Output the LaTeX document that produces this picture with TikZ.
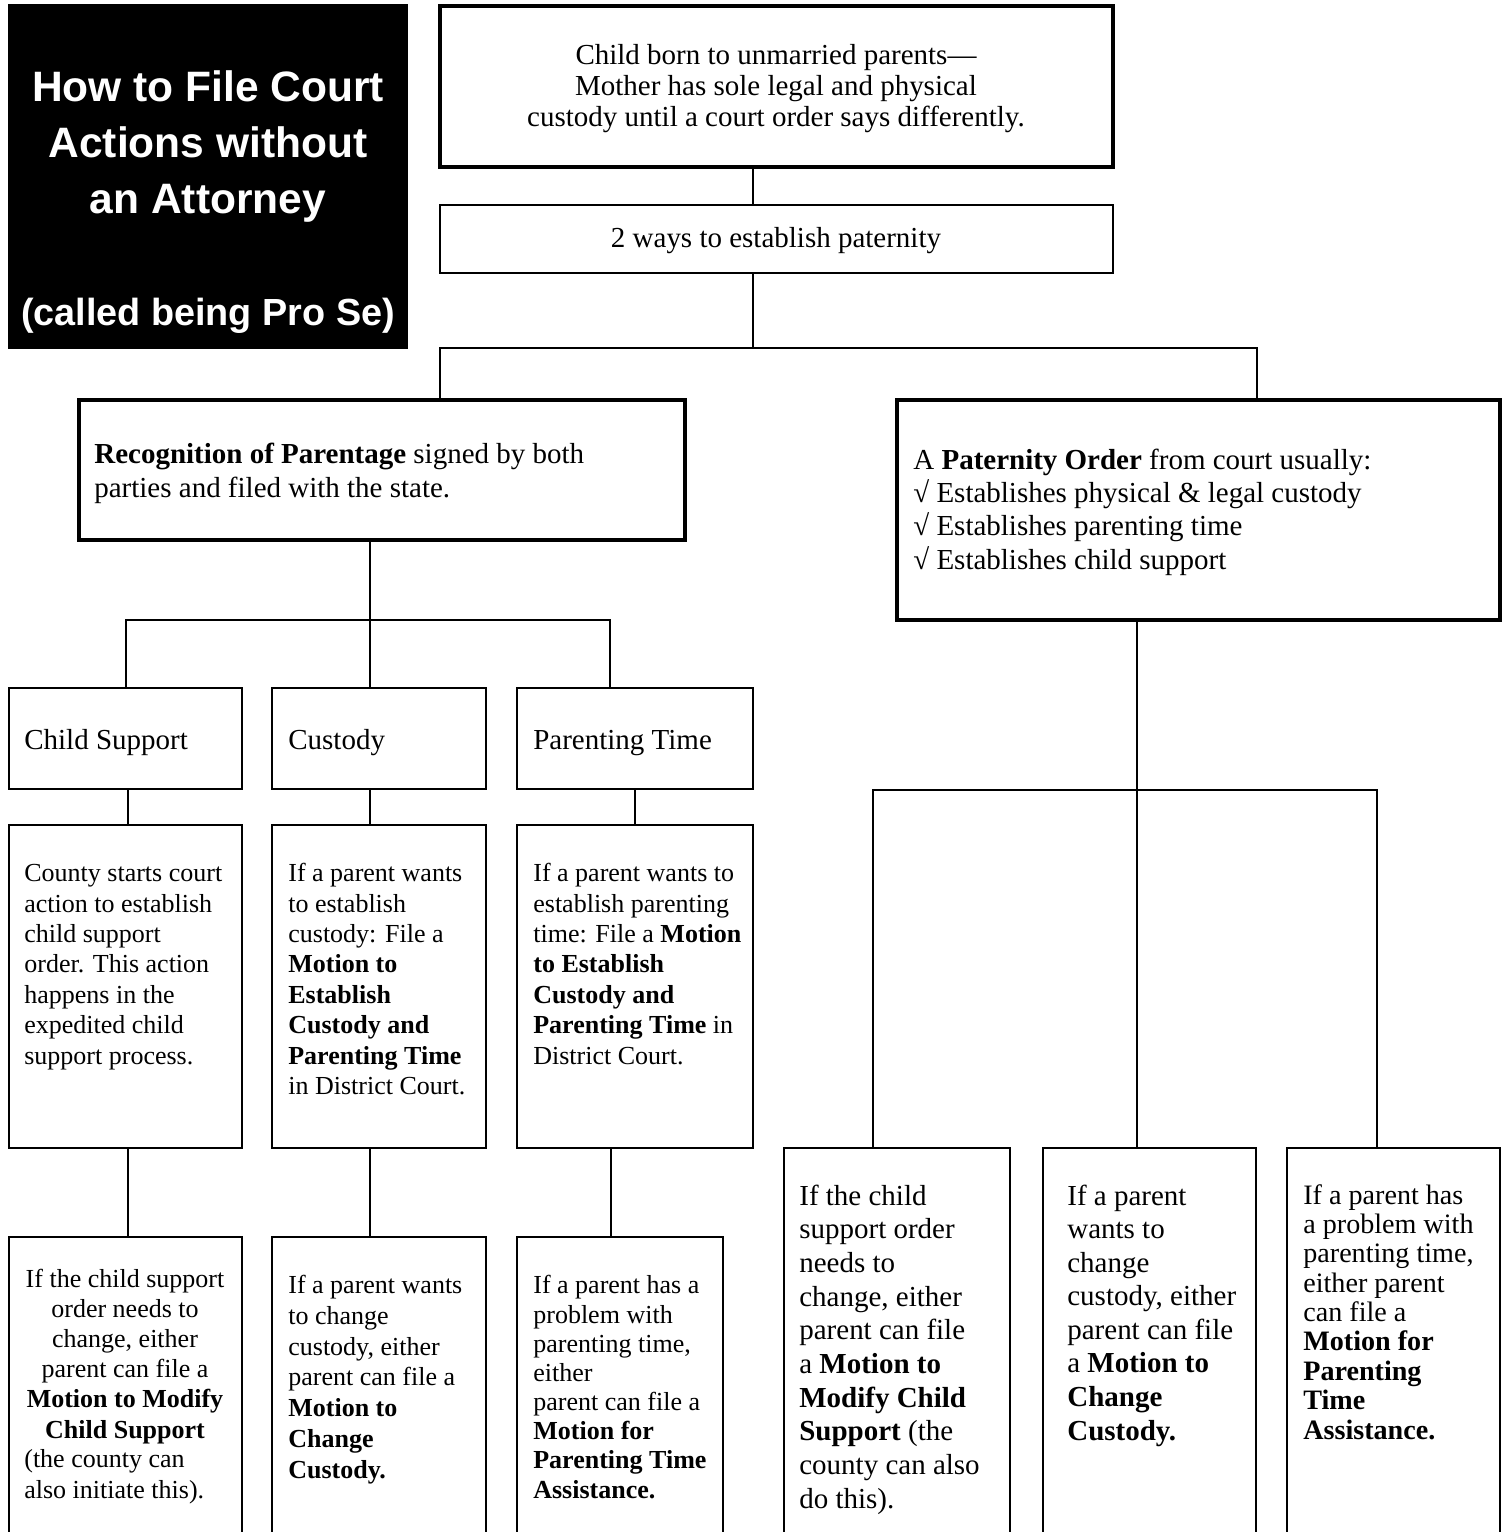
\documentclass[tikz,border=0pt]{standalone}
\usepackage{fontspec}
\setmainfont{Liberation Serif}
\setsansfont{Liberation Sans}
\usepackage{tikz}

\begin{document}
\begin{tikzpicture}[x=0.02cm, y=-0.02cm,
  box/.style={draw, line width=1.1pt, inner sep=0pt, outer sep=0pt, anchor=north west},
  heavybox/.style={box, line width=2pt},
  txt/.style={inner sep=0pt, anchor=base west, align=left},
  ctxt/.style={inner sep=0pt, anchor=base, align=center},
  wire/.style={line width=1.1pt}]
  \useasboundingbox (0,0) rectangle (1504,1532);
  \clip (0,0) rectangle (1504,1532);

  % Title block (text anchored at its last baseline)
  \node[fill=black, inner sep=0pt, outer sep=0pt, anchor=north west, minimum width=8cm, minimum height=6.9cm] (title) at (8,4) {};
  \node[ctxt, text=white, font=\sffamily\bfseries\fontsize{24.2}{31.7}\selectfont] (titletxt) at (208,325)
    {How to File Court\\Actions without\\an Attorney\\[32pt]{\fontsize{21.5}{31.7}\selectfont(called being Pro Se)}};

  % Top of the tree
  \node[heavybox, minimum width=13.46cm, minimum height=3.22cm] (born) at (440,6) {};
  \node[ctxt, font=\fontsize{16.5}{17.6}\selectfont] (borntxt) at (776,126)
    {Child born to unmarried parents---\\Mother has sole legal and physical\\custody until a court order says differently.};
  \node[box, minimum width=13.46cm, minimum height=1.36cm] (ways) at (440,205) {};
  \node[ctxt, font=\fontsize{16.5}{19}\selectfont] (waystxt) at (776,247) {2 ways to establish paternity};

  % Two ways
  \node[heavybox, minimum width=12.12cm, minimum height=2.8cm] (rec) at (79,400) {};
  \node[txt, font=\fontsize{16.5}{18.8}\selectfont] (rectxt) at (94,497)
    {\textbf{Recognition of Parentage} signed by both\\parties and filed with the state.};
  \node[heavybox, minimum width=12.06cm, minimum height=4.4cm] (pat) at (897,400) {};
  \node[txt, font=\fontsize{16.5}{18.9}\selectfont] (pattxt) at (913,569)
    {A \textbf{Paternity Order} from court usually:\\√ Establishes physical \& legal custody\\√ Establishes parenting time\\√ Establishes child support};

  % Recognition branch, row 1
  \node[box, minimum width=4.66cm, minimum height=2.02cm] (cs) at (9,688) {};
  \node[box, minimum width=4.28cm, minimum height=2.02cm] (cu) at (272,688) {};
  \node[box, minimum width=4.72cm, minimum height=2.02cm] (pt) at (517,688) {};
  \node[txt, font=\fontsize{16.5}{19}\selectfont] (cstxt) at (24,749) {Child Support};
  \node[txt, font=\fontsize{16.5}{19}\selectfont] (cutxt) at (288,749) {Custody};
  \node[txt, font=\fontsize{16.5}{19}\selectfont] (pttxt) at (533,749) {Parenting Time};

  % row 2
  \node[box, minimum width=4.66cm, minimum height=6.46cm] (csD) at (9,825) {};
  \node[box, minimum width=4.28cm, minimum height=6.46cm] (cuD) at (272,825) {};
  \node[box, minimum width=4.72cm, minimum height=6.46cm] (ptD) at (517,825) {};
  \node[txt, font=\fontsize{14.8}{17.3}\selectfont] (csDtxt) at (24,1064)
    {County starts court\\action to establish\\child support\\order. This action\\happens in the\\expedited child\\support process.};
  \node[txt, font=\fontsize{14.8}{17.3}\selectfont] (cuDtxt) at (288,1094.5)
    {If a parent wants\\to establish\\custody: File a\\\textbf{Motion to}\\\textbf{Establish}\\\textbf{Custody and}\\\textbf{Parenting Time}\\in District Court.};
  \node[txt, font=\fontsize{14.8}{17.3}\selectfont] (ptDtxt) at (533,1064)
    {If a parent wants to\\establish parenting\\time: File a \textbf{Motion}\\\textbf{to Establish}\\\textbf{Custody and}\\\textbf{Parenting Time} in\\District Court.};

  % row 3
  \node[box, minimum width=4.66cm, minimum height=7.4cm] (csM) at (9,1237) {};
  \node[box, minimum width=4.28cm, minimum height=7.4cm] (cuM) at (272,1237) {};
  \node[box, minimum width=4.12cm, minimum height=7.4cm] (ptM) at (517,1237) {};
  \node[ctxt, font=\fontsize{14.8}{17.1}\selectfont] (csMtxt) at (125,1438)
    {If the child support\\order needs to\\change, either\\parent can file a\\\textbf{Motion to Modify}\\\textbf{Child Support}};
  \node[txt, font=\fontsize{14.8}{17.1}\selectfont] (csMnote) at (24,1498)
    {(the county can\\also initiate this).};
  \node[txt, font=\fontsize{14.8}{17.5}\selectfont] (cuMtxt) at (288,1478)
    {If a parent wants\\to change\\custody, either\\parent can file a\\\textbf{Motion to}\\\textbf{Change}\\\textbf{Custody.}};
  \node[txt, font=\fontsize{14.8}{16.6}\selectfont] (ptMtxt) at (533,1498)
    {If a parent has a\\problem with\\parenting time,\\either\\parent can file a\\\textbf{Motion for}\\\textbf{Parenting Time}\\\textbf{Assistance.}};

  % Paternity order branch
  \node[box, minimum width=4.52cm, minimum height=9.2cm] (rA) at (784,1148) {};
  \node[box, minimum width=4.26cm, minimum height=9.2cm] (rB) at (1043,1148) {};
  \node[box, minimum width=4.26cm, minimum height=9.2cm] (rC) at (1287,1148) {};
  \node[txt, font=\fontsize{16.5}{19.15}\selectfont] (rAtxt) at (799,1508)
    {If the child\\support order\\needs to\\change, either\\parent can file\\a \textbf{Motion to}\\\textbf{Modify Child}\\\textbf{Support} (the\\county can also\\do this).};
  \node[txt, font=\fontsize{16.5}{19.1}\selectfont] (rBtxt) at (1067,1440)
    {If a parent\\wants to\\change\\custody, either\\parent can file\\a \textbf{Motion to}\\\textbf{Change}\\\textbf{Custody.}};
  \node[txt, font=\fontsize{16}{16.7}\selectfont] (rCtxt) at (1303,1439)
    {If a parent has\\a problem with\\parenting time,\\either parent\\can file a\\\textbf{Motion for}\\\textbf{Parenting}\\\textbf{Time}\\\textbf{Assistance.}};

  % connectors
  \coordinate (fork1) at (753,348);
  \coordinate (fork2) at (370,620);
  \coordinate (fork3) at (1137,790);
  \draw[wire] (753,0 |- born.south) -- (753,0 |- ways.north);
  \draw[wire] (753,0 |- ways.south) -- (fork1);
  \draw[wire] (440,0 |- rec.north) |- (fork1) -| (1257,0 |- pat.north);
  \draw[wire] (370,0 |- rec.south) -- (fork2);
  \draw[wire] (126,0 |- cs.north) |- (fork2) -| (610,0 |- pt.north);
  \draw[wire] (fork2) -- (370,0 |- cu.north);
  \foreach \a/\b/\x in {cs/csD/128, cu/cuD/370, pt/ptD/635}
    \draw[wire] (\x,0 |- \a.south) -- (\x,0 |- \b.north);
  \foreach \a/\b/\x in {csD/csM/128, cuD/cuM/370, ptD/ptM/611}
    \draw[wire] (\x,0 |- \a.south) -- (\x,0 |- \b.north);
  \draw[wire] (1137,0 |- pat.south) -- (fork3);
  \draw[wire] (873,0 |- rA.north) |- (fork3) -| (1377,0 |- rC.north);
  \draw[wire] (fork3) -- (1137,0 |- rB.north);
\end{tikzpicture}
\end{document}
